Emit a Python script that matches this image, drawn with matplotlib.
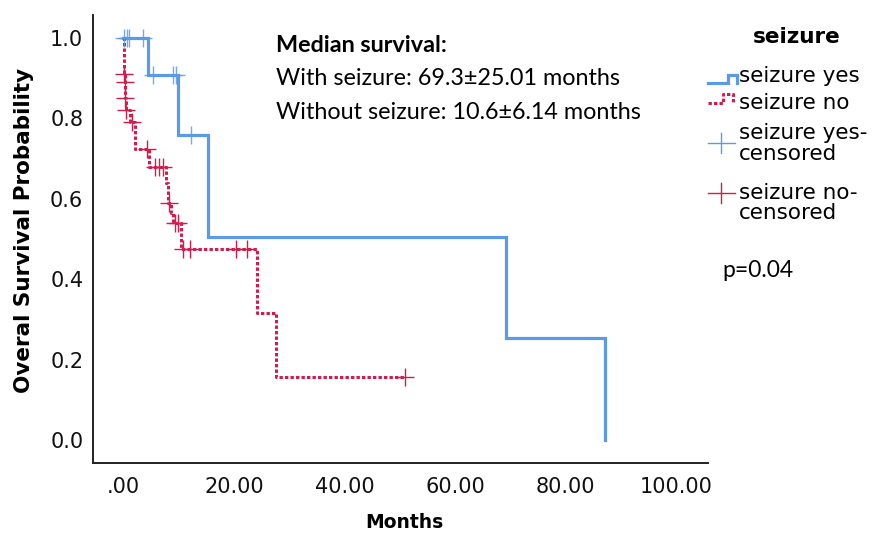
import numpy as np
import matplotlib
matplotlib.use('Agg')
import matplotlib.pyplot as plt
from matplotlib.lines import Line2D

# Kaplan-Meier steps (months, survival after the step)
yes_t = [0, 4.4, 9.9, 15.3, 69.2, 87.1]
yes_s = [1.0, 0.909, 0.758, 0.505, 0.253, 0.0]
yes_cens = [0.1, 0.6, 1.0, 3.5, 5.3, 9.0, 9.5, 12.3]

no_t = [0, 0.1, 0.2, 0.3, 0.4, 1.2, 2.1, 4.6, 7.7, 8.1, 8.6, 9.0, 10.5, 24.1, 27.6, 50.9]
no_s = [1.0, 0.91, 0.89, 0.85, 0.82, 0.79, 0.725, 0.68, 0.64, 0.59, 0.565, 0.54, 0.475, 0.316, 0.158, 0.158]
no_cens = [0.1, 0.2, 0.3, 0.4, 1.5, 4.3, 5.7, 6.5, 7.1, 8.3, 9.3, 9.8, 10.8, 12.1, 20.3, 22.3, 50.9]

x_ticks = [0, 20, 40, 60, 80, 100]
x_labels = ['.00', '20.00', '40.00', '60.00', '80.00', '100.00']
y_ticks = [0.0, 0.2, 0.4, 0.6, 0.8, 1.0]
y_labels = ['0.0', '0.2', '0.4', '0.6', '0.8', '1.0']

BLUE = '#5b9be6'
RED = '#d51a4c'
RED_LS = (0, (1.1, 0.7))
W, H = 883, 537


def level_at(t_steps, s_steps, t):
    idx = np.searchsorted(t_steps, t, side='right') - 1
    return np.asarray(s_steps)[idx]


def fx(x):
    return x / W


def fy(y):
    return 1 - y / H


fig = plt.figure(figsize=(W / 100, H / 100), dpi=100)
ax = fig.add_axes([fx(93), fy(463), 615 / W, 448 / H])

ax.step(yes_t, yes_s, where='post', color=BLUE, lw=2.3, solid_joinstyle='miter')
ax.step(no_t, no_s, where='post', color=RED, lw=2.2, linestyle=RED_LS)
ax.plot(yes_cens, level_at(yes_t, yes_s, yes_cens), '+', color=BLUE,
        ms=13, mew=1.0, alpha=0.85)
ax.plot(no_cens, level_at(no_t, no_s, no_cens), '+', color=RED, ms=13, mew=1.0)

ax.set_xlim(-5.5, 105.7)
ax.set_ylim(-0.057, 1.057)
ax.set_xticks(x_ticks)
ax.set_xticklabels(x_labels)
ax.set_yticks(y_ticks)
ax.set_yticklabels(y_labels)
ax.tick_params(length=0, labelsize=15, colors='#111111')
ax.tick_params(axis='x', pad=10)
ax.tick_params(axis='y', pad=7)
for side in ['top', 'right']:
    ax.spines[side].set_visible(False)
for side in ['left', 'bottom']:
    ax.spines[side].set_linewidth(1.4)
    ax.spines[side].set_color('#222222')

ax.set_xlabel('Months', fontsize=13.5, fontweight='bold', va='center')
ax.set_ylabel('Overal Survival Probability', fontsize=15.5, fontweight='bold', va='center')
ax.xaxis.set_label_coords(0.506, -(522 - 463) / 448)
ax.yaxis.set_label_coords(-(93 - 24) / 615, 0.52)

txt_font = ['Lato', 'DejaVu Sans']
ax.text(0.297, 0.931, 'Median survival:', transform=ax.transAxes, fontsize=16.8,
        fontweight='bold', va='center', family=txt_font)
ax.text(0.297, 0.859, 'With seizure: 69.3\u00b125.01 months', transform=ax.transAxes,
        fontsize=16.8, va='center', family=txt_font)
ax.text(0.297, 0.783, 'Without seizure: 10.6\u00b16.14 months', transform=ax.transAxes,
        fontsize=16.8, va='center', family=txt_font)

# legend, drawn by hand to follow the SPSS layout
fig.text(fx(797), fy(43), 'seizure', fontsize=15.5, fontweight='bold', ha='center', va='baseline')
leg_labels = ['seizure yes', 'seizure no', 'seizure yes-', 'censored', 'seizure no-', 'censored']
leg_base = [82, 109, 139, 160, 199, 219]
for lab, yb in zip(leg_labels, leg_base):
    fig.text(fx(739), fy(yb), lab, fontsize=15.5, va='baseline')


def step_glyph(x0, x1, x2, ylo, yhi, yend, **kw):
    xs = [fx(v) for v in (x0, x1, x1, x2, x2)]
    ys = [fy(v) for v in (ylo, ylo, yhi, yhi, yend)]
    fig.add_artist(Line2D(xs, ys, transform=fig.transFigure, **kw))


def plus_glyph(yc, color):
    fig.add_artist(Line2D([fx(708), fx(735)], [fy(yc), fy(yc)], transform=fig.transFigure,
                          color=color, lw=1.0))
    fig.add_artist(Line2D([fx(721), fx(721)], [fy(yc - 10), fy(yc + 10)],
                          transform=fig.transFigure, color=color, lw=1.0))


step_glyph(708, 728, 737, 83, 75, 83, color=BLUE, lw=2.3, solid_joinstyle='miter')
step_glyph(708, 723, 733, 103, 94, 102, color=RED, lw=2.2, linestyle=RED_LS)
plus_glyph(143, BLUE)
plus_glyph(193, RED)

fig.text(fx(722), fy(277), 'p=0.04', fontsize=16.5, va='baseline', family=txt_font)

fig.savefig('out.png', dpi=100)
